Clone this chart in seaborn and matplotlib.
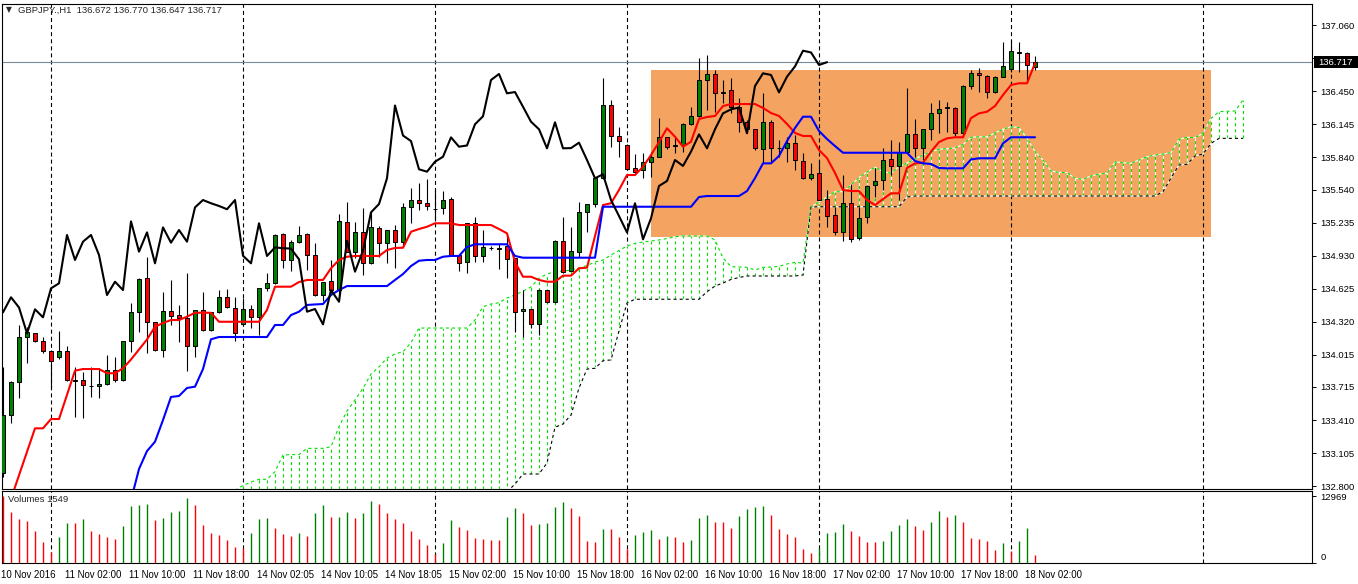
import numpy as np
import pandas as pd
import seaborn as sns
import matplotlib
matplotlib.use("Agg")
import matplotlib.pyplot as plt
from matplotlib.patches import Rectangle
from matplotlib.transforms import blended_transform_factory, ScaledTranslation

nan = np.nan

# GBPJPY H1 candles, bar 0 = 10 Nov 2016 18:00
opens = [132.920, 133.453, 133.758, 134.174, 134.211, 134.137, 134.045, 133.992, 134.045, 133.775,
         133.777, 133.720, 133.721, 133.740, 133.870, 133.777, 134.137, 134.405, 134.720, 134.313,
         134.060, 134.414, 134.377, 134.353, 134.097, 134.423, 134.242, 134.405, 134.544, 134.442,
         134.294, 134.433, 134.359, 134.627, 134.673, 135.129, 134.889, 135.058, 135.126, 134.935,
         134.565, 134.695, 134.611, 135.237, 134.966, 135.144, 134.858, 135.181, 135.049, 135.166,
         135.058, 135.375, 135.440, 135.413, 135.360, 135.366, 135.450, 134.935, 134.867, 135.228,
         134.928, 134.996, 134.996, 135.018, 134.904, 134.417, 134.433, 134.294, 134.611, 134.503,
         135.067, 134.790, 134.966, 135.329, 135.406, 135.644, 136.317, 136.039, 135.952, 135.736,
         135.720, 135.797, 135.843, 136.022, 135.945, 135.952, 136.143, 136.217, 136.552, 136.608,
         136.429, 136.460, 136.305, 136.167, 136.097, 135.912, 136.161, 135.921, 135.921, 135.973,
         135.807, 135.644, 135.690, 135.450, 135.305, 135.144, 135.413, 135.089, 135.283, 135.579,
         135.625, 135.819, 135.758, 135.890, 136.050, 135.921, 136.097, 136.244, 136.297, 136.297,
         136.060, 136.497, 136.614, 136.592, 136.438, 136.583, 136.654, 136.805, 136.805, 136.672]
highs = [133.900, 133.770, 134.288, 134.270, 134.215, 134.180, 134.060, 134.232, 134.094, 133.897,
         133.857, 133.903, 133.888, 134.010, 133.995, 134.140, 134.488, 134.720, 134.919, 134.320,
         134.590, 134.704, 134.473, 134.765, 134.430, 134.596, 134.410, 134.611, 134.620, 134.544,
         134.535, 134.473, 134.630, 134.765, 135.130, 135.135, 135.070, 135.206, 135.135, 135.043,
         134.690, 134.889, 135.314, 135.422, 135.237, 135.366, 135.335, 135.203, 135.170, 135.212,
         135.413, 135.551, 135.603, 135.637, 135.536, 135.530, 135.474, 134.940, 135.230, 135.289,
         135.166, 135.020, 135.049, 135.129, 134.910, 134.611, 134.440, 134.620, 134.615, 135.070,
         135.283, 135.197, 135.428, 135.410, 135.650, 136.568, 136.367, 136.120, 135.960, 135.868,
         135.874, 135.890, 136.198, 136.030, 136.022, 136.157, 136.305, 136.753, 136.783, 136.645,
         136.552, 136.568, 136.383, 136.183, 136.100, 136.429, 136.183, 135.998, 136.022, 136.044,
         135.874, 135.782, 135.813, 135.536, 135.381, 135.674, 135.588, 135.381, 135.582, 135.736,
         135.921, 135.995, 135.982, 136.475, 136.189, 136.100, 136.337, 136.367, 136.352, 136.300,
         136.506, 136.645, 136.660, 136.595, 136.585, 136.905, 136.920, 136.905, 136.810, 136.770]
lows = [132.880, 133.385, 133.610, 133.940, 134.130, 134.030, 133.703, 133.970, 133.770, 133.440,
        133.425, 133.620, 133.610, 133.735, 133.758, 133.770, 134.041, 134.219, 134.032, 134.050,
        133.995, 134.288, 134.128, 133.866, 133.990, 134.235, 134.230, 134.400, 134.445, 134.143,
        134.280, 134.257, 134.196, 134.600, 134.670, 134.812, 134.790, 135.050, 134.796, 134.560,
        134.513, 134.580, 134.519, 134.960, 134.904, 134.750, 134.850, 134.919, 134.858, 134.812,
        135.012, 135.234, 135.351, 135.351, 135.252, 135.314, 134.925, 134.790, 134.771, 134.874,
        134.874, 134.980, 134.803, 134.720, 134.226, 134.180, 134.257, 134.196, 134.488, 134.490,
        134.770, 134.785, 134.919, 135.150, 135.375, 135.640, 135.936, 135.845, 135.720, 135.690,
        135.644, 135.659, 135.840, 135.912, 135.874, 135.890, 136.140, 136.210, 136.275, 136.260,
        136.337, 136.244, 136.075, 136.060, 135.905, 135.782, 135.782, 135.845, 135.797, 135.720,
        135.640, 135.628, 135.443, 135.197, 135.120, 135.067, 135.052, 135.074, 135.234, 135.474,
        135.536, 135.674, 135.443, 135.885, 135.843, 135.813, 135.998, 136.060, 136.075, 136.035,
        136.028, 136.466, 136.444, 136.383, 136.429, 136.580, 136.630, 136.630, 136.552, 136.647]
closes = [133.456, 133.761, 134.174, 134.219, 134.137, 134.045, 133.952, 134.045, 133.777, 133.780,
          133.731, 133.722, 133.743, 133.870, 133.777, 134.137, 134.405, 134.713, 134.313, 134.057,
          134.414, 134.374, 134.353, 134.097, 134.423, 134.242, 134.405, 134.544, 134.450, 134.211,
          134.433, 134.359, 134.627, 134.673, 135.120, 134.889, 135.058, 135.120, 134.935, 134.565,
          134.688, 134.611, 135.246, 134.966, 135.144, 134.858, 135.190, 135.049, 135.166, 135.058,
          135.375, 135.443, 135.413, 135.388, 135.358, 135.443, 134.928, 134.858, 135.228, 134.926,
          135.005, 134.998, 134.994, 134.895, 134.411, 134.436, 134.294, 134.611, 134.503, 135.067,
          134.781, 134.975, 135.329, 135.406, 135.644, 136.317, 136.039, 135.988, 135.727, 135.705,
          135.797, 135.843, 136.022, 135.936, 135.947, 136.143, 136.217, 136.552, 136.608, 136.429,
          136.441, 136.305, 136.167, 136.097, 135.921, 136.161, 135.921, 135.923, 135.973, 135.813,
          135.644, 135.681, 135.443, 135.295, 135.144, 135.413, 135.080, 135.274, 135.573, 135.619,
          135.813, 135.758, 135.890, 136.050, 135.921, 136.097, 136.244, 136.281, 136.299, 136.060,
          136.497, 136.614, 136.599, 136.438, 136.583, 136.678, 136.823, 136.807, 136.691, 136.717]

volumes = [12969, 9850, 8490, 8100, 6160, 4020, 2070, 4990, 7710, 7710,
           8490, 6160, 5640, 4990, 4600, 7130, 11080, 11150, 11410, 8300,
           8680, 9850, 10040, 12570, 11210, 7320, 5770, 5380, 4410, 3050,
           2850, 5770, 8490, 8680, 6740, 5570, 5180, 5770, 5180, 9660,
           11210, 8880, 8950, 9850, 8680, 9660, 11990, 11410, 9660, 8490,
           7710, 6160, 4600, 3430, 1680, 3820, 8300, 6930, 6350, 4800,
           4600, 4410, 4410, 8880, 10630, 9660, 7320, 7520, 7710, 10820,
           11790, 10630, 9070, 4210, 4020, 6540, 6540, 4990, 2660, 5380,
           5960, 6350, 4600, 5180, 4990, 4020, 4410, 8680, 9270, 7910,
           7910, 6740, 9070, 10430, 10820, 11020, 9270, 6540, 5570, 4990,
           2660, 1880, 2850, 5770, 5960, 7520, 6160, 5180, 4020, 4020,
           4210, 6160, 7320, 8490, 7130, 6350, 7910, 10040, 8880, 9270,
           7910, 4800, 4600, 4210, 2460, 3820, 2270, 4210, 6740, 1549]

# Ichimoku lines (one value per bar)
tenkan = [nan, 132.682, 132.900, 133.118, 133.333, 133.333, 133.419, 133.419, 133.641, 133.866,
          133.881, 133.881, 133.881, 133.842, 133.842, 133.888, 133.969, 134.062, 134.154, 134.272,
          134.306, 134.334, 134.334, 134.365, 134.401, 134.401, 134.401, 134.318, 134.318, 134.318,
          134.318, 134.318, 134.318, 134.427, 134.642, 134.642, 134.642, 134.685, 134.704, 134.704,
          134.704, 134.812, 134.889, 134.919, 134.926, 134.926, 134.926, 134.926, 134.981, 135.000,
          135.002, 135.150, 135.175, 135.196, 135.228, 135.228, 135.228, 135.212, 135.212, 135.212,
          135.212, 135.212, 135.175, 135.135, 134.870, 134.734, 134.734, 134.704, 134.688, 134.688,
          134.744, 134.744, 134.812, 134.818, 135.110, 135.397, 135.413, 135.536, 135.674, 135.674,
          135.750, 135.859, 135.979, 136.106, 136.028, 135.936, 135.982, 136.192, 136.210, 136.220,
          136.312, 136.330, 136.330, 136.330, 136.330, 136.294, 136.247, 136.220, 136.146, 136.063,
          136.035, 136.035, 135.905, 135.831, 135.693, 135.536, 135.526, 135.526, 135.443, 135.397,
          135.452, 135.505, 135.505, 135.739, 135.782, 135.788, 135.890, 135.979, 136.013, 136.023,
          136.023, 136.200, 136.244, 136.259, 136.312, 136.414, 136.506, 136.522, 136.522, 136.707]
kijun = [nan, nan, nan, nan, nan, nan, nan, nan, nan, nan,
         nan, nan, nan, nan, nan, nan, 132.670, 132.957, 133.123, 133.209,
         133.410, 133.623, 133.632, 133.706, 133.718, 133.881, 134.156, 134.177, 134.177, 134.177,
         134.177, 134.177, 134.177, 134.177, 134.288, 134.288, 134.380, 134.411, 134.473, 134.478,
         134.482, 134.565, 134.611, 134.648, 134.648, 134.648, 134.648, 134.648, 134.648, 134.704,
         134.759, 134.833, 134.882, 134.889, 134.889, 134.919, 134.926, 134.926, 135.009, 135.034,
         135.034, 135.034, 135.034, 135.034, 134.926, 134.910, 134.910, 134.910, 134.910, 134.910,
         134.910, 134.910, 134.910, 134.910, 134.910, 135.381, 135.381, 135.381, 135.381, 135.381,
         135.381, 135.381, 135.381, 135.381, 135.381, 135.381, 135.381, 135.471, 135.480, 135.480,
         135.480, 135.480, 135.480, 135.526, 135.646, 135.782, 135.782, 135.850, 135.988, 136.109,
         136.213, 136.213, 136.081, 136.007, 135.942, 135.880, 135.880, 135.880, 135.880, 135.880,
         135.880, 135.880, 135.880, 135.880, 135.804, 135.782, 135.776, 135.739, 135.736, 135.736,
         135.736, 135.818, 135.829, 135.829, 135.829, 135.967, 136.023, 136.023, 136.023, 136.023]
# senkou spans run 26 bars past the last candle
span_a = [nan] * 29 + [
    132.760,
    132.805, 132.837, 132.862, 132.862, 132.932, 133.087, 133.090, 133.090, 133.148, 133.148,
    133.148, 133.163, 133.348, 133.493, 133.595, 133.703, 133.835, 133.900, 133.983, 134.020,
    134.041, 134.124, 134.260, 134.260, 134.260, 134.260, 134.260, 134.260, 134.260, 134.334,
    134.457, 134.482, 134.494, 134.538, 134.565, 134.602, 134.639, 134.720, 134.759, 134.781,
    134.787, 134.796, 134.815, 134.838, 134.870, 134.889, 134.935, 134.977, 135.018, 135.043,
    135.055, 135.064, 135.074, 135.087, 135.104, 135.111, 135.111, 135.111, 135.111, 135.074,
    134.907, 134.827, 134.824, 134.821, 134.796, 134.821, 134.824, 134.829, 134.852, 134.867,
    134.860, 135.379, 135.425, 135.471, 135.520, 135.520, 135.582, 135.651, 135.702, 135.746,
    135.705, 135.690, 135.753, 135.785, 135.822, 135.859, 135.890, 135.912, 135.918, 135.924,
    135.956, 136.023, 136.027, 136.027, 136.063, 136.097, 136.121, 136.113, 136.014, 135.890,
    135.813, 135.711, 135.699, 135.696, 135.644, 135.635, 135.665, 135.684, 135.690, 135.795,
    135.788, 135.782, 135.813, 135.843, 135.859, 135.868, 135.880, 136.004, 136.023, 136.019,
    136.060, 136.198, 136.259, 136.263, 136.266, 136.367]
span_b = [nan] * 63 + [
    132.745, 132.818, 132.911, 132.911, 132.911, 133.013, 133.343,
    133.373, 133.456, 133.706, 133.881, 133.888, 133.958, 133.965, 134.233, 134.491, 134.526,
    134.526, 134.526, 134.526, 134.526, 134.526, 134.526, 134.526, 134.526, 134.596, 134.648,
    134.676, 134.709, 134.727, 134.741, 134.741, 134.741, 134.741, 134.741, 134.741, 134.741,
    134.750, 135.379, 135.381, 135.381, 135.381, 135.381, 135.381, 135.381, 135.381, 135.381,
    135.381, 135.381, 135.381, 135.471, 135.480, 135.480, 135.480, 135.480, 135.480, 135.480,
    135.480, 135.480, 135.480, 135.480, 135.480, 135.480, 135.480, 135.480, 135.480, 135.480,
    135.480, 135.480, 135.480, 135.480, 135.480, 135.480, 135.480, 135.480, 135.480, 135.480,
    135.480, 135.480, 135.480, 135.480, 135.480, 135.520, 135.647, 135.767, 135.773, 135.850,
    135.868, 135.967, 136.013, 136.013, 136.013, 136.013]
chikou_shift = 26

# user rectangle (bar index / price)
box_left, box_right = 81, 151
box_low, box_high = 135.101, 136.645

day_breaks = [6, 30, 54, 78, 102, 126, 150]
time_labels = ["10 Nov 2016", "11 Nov 02:00", "11 Nov 10:00", "11 Nov 18:00", "14 Nov 02:05",
               "14 Nov 10:05", "14 Nov 18:05", "15 Nov 02:00", "15 Nov 10:00", "15 Nov 18:00",
               "16 Nov 02:00", "16 Nov 10:00", "16 Nov 18:00", "17 Nov 02:00", "17 Nov 10:00",
               "17 Nov 18:00", "18 Nov 02:00"]
label_step = 8
price_ticks = ["132.800", "133.105", "133.410", "133.715", "134.015", "134.320", "134.625",
               "134.930", "135.235", "135.540", "135.840", "136.145", "136.450", "136.755", "137.060"]
title = "GBPJPY.,H1  136.672 136.770 136.647 136.717"

GREEN = "#008000"
RED = "#ff0000"
CLOUD = "#00e000"

sns.set_style("white")
plt.rcParams["font.family"] = ["Liberation Sans", "DejaVu Sans"]
plt.rcParams["lines.scale_dashes"] = False
plt.rcParams["axes.edgecolor"] = "black"
plt.rcParams["axes.linewidth"] = 0.8
plt.rcParams["xtick.color"] = "black"
plt.rcParams["ytick.color"] = "black"

W, H = 1358, 584
fig = plt.figure(figsize=(W / 100, H / 100), dpi=100)


def px_box(x0, y0, x1, y1):
    return [x0 / W, 1 - y1 / H, (x1 - x0) / W, (y1 - y0) / H]


ax = fig.add_axes(px_box(2, 4, 1312, 489))
axv = fig.add_axes(px_box(2, 491, 1312, 563))

ymin, ymax = 132.7723, 137.2547
xmin, xmax = -0.125, 163.625

o = np.array(opens)
h = np.array(highs)
l = np.array(lows)
c = np.array(closes)
idx = np.arange(len(o))

# background rectangle
ax.add_patch(Rectangle((box_left, box_low), box_right - box_left, box_high - box_low,
                       facecolor="#f4a460", edgecolor="none", zorder=1))

# day separators
for ax_ in (ax, axv):
    for d in day_breaks:
        ax_.axvline(d, color="black", lw=0.8, linestyle=(0, (2.9, 2.2)), zorder=1.5)

# cloud hatch
sa = np.array(span_a)
sb = np.array(span_b)
sid = np.arange(len(sa))
ok = ~np.isnan(sa)
bot = np.where(np.isnan(sb), ymin, sb)
ax.vlines(sid[ok], bot[ok], sa[ok], colors="white", lw=0.8, zorder=2)
ax.vlines(sid[ok], bot[ok], sa[ok], colors=CLOUD, lw=0.8, linestyles=[(0, (2.2, 2.2))], zorder=2.1)


def draw_line(xs, ys, color, lw, zorder, ls="-"):
    d = pd.DataFrame({"x": xs, "y": ys}).dropna()
    sns.lineplot(data=d, x="x", y="y", ax=ax, color=color, linewidth=lw, linestyle=ls,
                 estimator=None, sort=False, legend=False, zorder=zorder)


for span, col in ((span_a, CLOUD), (span_b, "black")):
    draw_line(sid, span, "white", 0.8, 2.2)
    draw_line(sid, span, col, 0.8, 2.3, ls=(0, (2.2, 2.2)))

# last price line
ax.axhline(c[-1], color="#778899", lw=0.8, zorder=2.5)

# candles
ax.vlines(idx, l, h, colors="black", lw=0.8, zorder=3)
up = c >= o
body_lo = np.minimum(o, c)
body_h = np.abs(c - o)
ax.bar(idx[up], body_h[up], bottom=body_lo[up], width=0.6, color=GREEN,
       edgecolor="black", linewidth=0.7, zorder=3.2)
ax.bar(idx[~up], body_h[~up], bottom=body_lo[~up], width=0.6, color=RED,
       edgecolor="black", linewidth=0.7, zorder=3.2)

# indicator lines
draw_line(idx, tenkan, RED, 1.5, 4)
draw_line(idx, kijun, "#0000ff", 1.5, 4)
draw_line(idx[:len(c) - chikou_shift], c[chikou_shift:], "black", 1.5, 4.1)

ax.set_xlim(xmin, xmax)
ax.set_ylim(ymin, ymax)
ax.set_xlabel("")
ax.set_ylabel("")
ax.tick_params(axis="x", bottom=False, labelbottom=False)
ax.yaxis.tick_right()
ax.set_yticks([float(t) for t in price_ticks])
ax.set_yticklabels(price_ticks)
ax.tick_params(axis="y", direction="out", length=3, width=0.7, pad=3, labelsize=6.8)

# last price marker on the scale
btr = blended_transform_factory(ax.transAxes, ax.transData)
ax.add_patch(Rectangle((1 + 2 / 1310, c[-1] - 0.056), 46 / 1310, 0.112, transform=btr,
                       facecolor="black", edgecolor="none", clip_on=False, zorder=9))
ax.text(1 + 6 / 1310, c[-1], "%.3f" % c[-1], transform=btr, color="white", fontsize=6.8,
        ha="left", va="center", clip_on=False, zorder=10)

# volumes
v = np.array(volumes)
vcol = [RED] + [GREEN if v[i] > v[i - 1] else RED for i in range(1, len(v))]
axv.vlines(idx, 0, v, colors=vcol, lw=1.0, zorder=3)
axv.set_xlim(xmin, xmax)
axv.set_ylim(0, 13950)
axv.yaxis.tick_right()
axv.set_yticks([0, 12969])
axv.set_yticklabels(["0", "12969"])
axv.tick_params(axis="y", direction="out", length=3, width=0.7, pad=3, labelsize=6.8)
zero_lab = axv.get_yticklabels()[0]
zero_lab.set_transform(zero_lab.get_transform() + ScaledTranslation(0, 6 / 100, fig.dpi_scale_trans))

axv.set_xticks(np.arange(len(time_labels)) * label_step)
axv.set_xticklabels(time_labels)
axv.tick_params(axis="x", direction="out", length=3, width=0.7, pad=2, labelsize=6.9)
for lab in axv.get_xticklabels():
    lab.set_horizontalalignment("left")
    lab.set_transform(lab.get_transform() + ScaledTranslation(-2 / 100, 0, fig.dpi_scale_trans))

fig.text(8 / W, 1 - 499 / H, "Volumes %d" % volumes[-1], fontsize=6.8, va="center", ha="left")
fig.text(6 / W, 1 - 10 / H, "\u25bc", fontsize=5.5, va="center", ha="left",
         family=["DejaVu Sans"])
fig.text(18 / W, 1 - 10 / H, title, fontsize=6.8, va="center", ha="left")

fig.savefig("out.png", dpi=100, facecolor="white")
